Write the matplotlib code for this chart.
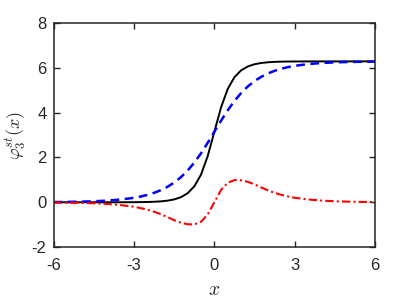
import matplotlib
matplotlib.use("Agg")
import matplotlib.pyplot as plt

plt.rcParams['font.family'] = ['Liberation Sans', 'DejaVu Sans']
plt.rcParams['mathtext.fontset'] = 'cm'
plt.rcParams['axes.unicode_minus'] = False

# values
x = [-6, -5.5, -5, -4.5, -4, -3.5, -3, -2.75, -2.5, -2.25, -2, -1.75, -1.5, -1.25,
     -1, -0.75, -0.5, -0.25, 0, 0.25, 0.5, 0.75, 1, 1.25, 1.5, 1.75, 2, 2.25,
     2.5, 2.75, 3, 3.5, 4, 4.5, 5, 5.5, 6]
phi_black = [0.0, 0.0, 0.0, 0.0, 0.0, 0.001, 0.004, 0.007, 0.013, 0.023, 0.040, 0.071,
             0.127, 0.225, 0.400, 0.705, 1.227, 2.051, 3.142, 4.232, 5.056, 5.578,
             5.884, 6.058, 6.156, 6.212, 6.243, 6.261, 6.271, 6.276, 6.279, 6.282,
             6.283, 6.283, 6.283, 6.283, 6.283]
phi_blue = [0.010, 0.016, 0.027, 0.044, 0.073, 0.121, 0.199, 0.255, 0.328, 0.420,
            0.538, 0.688, 0.878, 1.116, 1.410, 1.766, 2.179, 2.647, 3.142, 3.637,
            4.104, 4.517, 4.873, 5.167, 5.405, 5.595, 5.745, 5.863, 5.956, 6.028,
            6.084, 6.163, 6.210, 6.239, 6.256, 6.267, 6.273]
phi_red = [-0.010, -0.016, -0.027, -0.045, -0.075, -0.125, -0.200, -0.260, -0.330,
           -0.420, -0.530, -0.660, -0.800, -0.910, -0.980, -0.990, -0.870, -0.550,
           0.0, 0.550, 0.870, 0.990, 0.980, 0.910, 0.800, 0.660, 0.530, 0.420,
           0.330, 0.260, 0.200, 0.125, 0.075, 0.045, 0.027, 0.016, 0.010]
xticks = [-6, -3, 0, 3, 6]
yticks = [-2, 0, 2, 4, 6, 8]

fig = plt.figure(figsize=(4.15, 3.01), dpi=100)
ax = fig.add_axes([0.129, 0.179, 0.775, 0.745])

ax.plot(x, phi_black, color='black', lw=1.4)
ax.plot(x, phi_blue, color='blue', lw=1.8, ls=(0, (3.5, 2.2)))
ax.plot(x, phi_red, color='red', lw=1.5, ls=(0, (4, 1.5, 1, 1.5)))

ax.set_xlim(-6, 6)
ax.set_ylim(-2, 8)
ax.set_xticks(xticks)
ax.set_xticklabels([str(v) for v in xticks])
ax.set_yticks(yticks)
ax.set_yticklabels([str(v) for v in yticks])

gray = '#262626'
for s in ax.spines.values():
    s.set_color(gray)
    s.set_linewidth(1.1)
ax.tick_params(direction='in', top=True, right=True, length=4, width=1.0,
               color=gray, labelcolor=gray, labelsize=12, pad=5)
ax.tick_params(axis='x', pad=8)

ax.set_xlabel(r'$x$', fontsize=14, color=gray, labelpad=6)
ax.set_ylabel(r'$\varphi_3^{st}(x)$', fontsize=13, color=gray, labelpad=3)

fig.savefig('out.png', dpi=100)
